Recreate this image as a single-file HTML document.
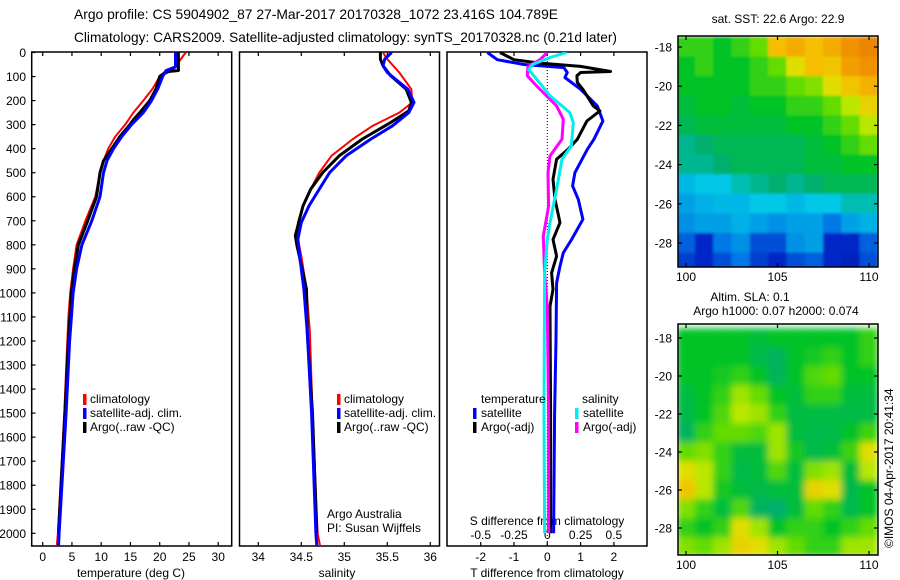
<!DOCTYPE html>
<html><head><meta charset="utf-8">
<style>
body{margin:0;background:#fff;}
svg{display:block;font-family:"Liberation Sans",Arial,sans-serif;}
text{fill:#000;}
</style></head>
<body>
<svg id="fig" width="900" height="580" viewBox="0 0 900 580" xmlns="http://www.w3.org/2000/svg">
<rect width="900" height="580" fill="#fff"/>
<text x="74" y="19" font-size="14" textLength="484" lengthAdjust="spacingAndGlyphs">Argo profile: CS 5904902_87 27-Mar-2017 20170328_1072 23.416S 104.789E</text>
<text x="74" y="42" font-size="14" textLength="543" lengthAdjust="spacingAndGlyphs">Climatology: CARS2009. Satellite-adjusted climatology: synTS_20170328.nc (0.21d later)</text>
<defs>
<clipPath id="cp1"><rect x="31.7" y="52" width="200" height="494"/></clipPath>
<clipPath id="cp2"><rect x="239.5" y="52" width="200" height="494"/></clipPath>
<clipPath id="cp3"><rect x="447" y="52" width="200" height="494"/></clipPath>
<clipPath id="cpm1"><rect x="678" y="36" width="200" height="231"/></clipPath>
<clipPath id="cpm2"><rect x="678" y="324" width="200" height="231"/></clipPath>
<filter id="blur" x="-5%" y="-5%" width="110%" height="110%"><feGaussianBlur stdDeviation="3.5"/></filter>
<filter id="blur2"><feGaussianBlur stdDeviation="1.2"/></filter>
</defs>
<g id="layer"></g>
</svg>
<script>
// ---------- data ----------
const depthTicks = [0,100,200,300,400,500,600,700,800,900,1000,1100,1200,1300,1400,1500,1600,1700,1800,1900,2000];
const tempTicks = [0,5,10,15,20,25,30];
const salTicks = [34,34.5,35,35.5,36];
const salTickLabels = ["34","34.5","35","35.5","36"];
const dTTicks = [-2,-1,0,1,2];
const dSTicks = [-0.5,-0.25,0,0.25,0.5];
const dSTickLabels = ["-0.5","-0.25","0","0.25","0.5"];

const tClimD = [0,8,75,100,150,200,250,300,350,400,450,500,600,700,800,900,1000,1100,1200,1500,2000,2055];
const tClim = [24.5,24.2,22.2,20.0,18.8,17.2,15.5,14.1,12.4,11.2,10.4,9.8,9.0,7.3,5.8,5.2,4.7,4.4,4.2,3.7,2.6,2.4];
const tSatD = [0,60,75,100,150,200,250,300,350,400,450,500,600,700,800,900,1000,1100,1200,1500,2000,2055];
const tSat = [22.7,22.7,21.1,20.5,19.7,18.6,17.2,15.2,13.5,12.1,11.0,10.4,9.8,8.4,6.7,5.8,5.2,4.9,4.6,4.0,2.8,2.7];
const tArgoD = [0,75,80,100,150,200,250,280,300,350,400,450,500,600,700,800,900,1000,1200,1500,2000];
const tArgo = [23.2,23.2,21.1,20.0,19.4,18.3,16.6,15.5,14.9,13.2,11.8,10.4,9.8,9.2,7.7,6.1,5.4,4.9,4.4,3.8,2.7];

const sClimD = [0,28,83,153,208,250,305,360,430,499,568,638,707,776,846,985,1165,1500,2000,2055];
const sClim = [35.45,35.5,35.64,35.78,35.79,35.64,35.33,35.1,34.85,34.71,34.61,34.52,34.46,34.46,34.5,34.56,34.6,34.63,34.69,34.72];
const sSatD = [0,28,55,83,153,208,250,305,360,430,499,568,638,707,776,846,985,1165,1500,2000,2050];
const sSat = [35.55,35.47,35.45,35.5,35.74,35.81,35.75,35.56,35.31,35.02,34.83,34.71,34.59,34.5,34.46,34.48,34.53,34.57,34.62,34.67,34.68];
const sArgoD = [0,28,55,97,153,208,243,291,360,430,499,568,638,707,762,804,915,985,1165,1500,2000];
const sArgo = [35.42,35.42,35.45,35.54,35.72,35.78,35.75,35.54,35.21,34.94,34.75,34.61,34.52,34.47,34.43,34.45,34.52,34.56,34.57,34.63,34.68];

const dTSatD = [0,30,50,63,83,104,153,222,285,361,403,500,555,611,694,778,833,889,958,1194,1500,2000];
const dTSat = [-1.8,-1.5,-0.7,0.5,0.6,0.53,1.0,1.5,1.67,1.4,1.2,0.83,0.76,0.93,1.07,0.73,0.48,0.38,0.28,0.26,0.22,0.19];
const dTArgoD = [0,30,44,58,79,83,97,125,153,222,243,285,361,403,444,528,611,708,778,847,917,986,1056,1500,2000];
const dTArgo = [-1.42,-1.0,-0.22,1.0,1.9,1.0,0.89,0.9,1.07,1.38,1.58,1.19,0.9,0.62,0.28,0.17,0.23,0.38,0.17,0.28,0.13,0.17,0.08,0.1,0.1];
const dSSatD = [0,21,50,71,111,180,250,292,389,444,569,708,778,917,1500,2000];
const dSSat = [0.145,0.02,-0.11,-0.14,-0.08,0.02,0.17,0.195,0.18,0.11,0.07,0.02,0,-0.02,-0.025,-0.02];
const dSArgoD = [0,30,58,97,139,222,278,361,430,500,639,764,917,1056,1500,2000];
const dSArgo = [0,-0.055,-0.145,-0.15,-0.08,0.07,0.12,0.11,0.02,0.005,0.01,-0.03,-0.02,0,0.01,0.01];

const mapLons = [100,101,102,103,104,105,106,107,108,109,110];
const mapLats = [-18,-19,-20,-21,-22,-23,-24,-25,-26,-27,-28,-29];
const lonTicks = [100,105,110];
const latTicks = [-18,-20,-22,-24,-26,-28];
const sstGrid = [
[0.55,0.55,0.5,0.55,0.6,0.75,0.78,0.75,0.78,0.82,0.84],
[0.5,0.55,0.5,0.5,0.55,0.6,0.7,0.75,0.74,0.8,0.82],
[0.5,0.5,0.5,0.5,0.55,0.55,0.6,0.62,0.7,0.74,0.77],
[0.48,0.5,0.5,0.48,0.5,0.5,0.55,0.55,0.6,0.66,0.72],
[0.45,0.48,0.48,0.48,0.48,0.48,0.5,0.5,0.55,0.6,0.66],
[0.4,0.42,0.45,0.45,0.45,0.45,0.45,0.48,0.5,0.55,0.6],
[0.4,0.4,0.42,0.45,0.45,0.45,0.45,0.48,0.48,0.5,0.5],
[0.33,0.35,0.35,0.38,0.4,0.42,0.4,0.42,0.45,0.45,0.45],
[0.3,0.32,0.33,0.33,0.35,0.35,0.33,0.35,0.35,0.38,0.38],
[0.28,0.3,0.3,0.32,0.3,0.28,0.3,0.3,0.25,0.3,0.32],
[0.22,0.15,0.25,0.28,0.2,0.2,0.28,0.3,0.15,0.15,0.22],
[0.18,0.15,0.2,0.25,0.18,0.15,0.2,0.22,0.15,0.12,0.2]];
const slaGrid = [
[0.5,0.5,0.5,0.5,0.48,0.5,0.5,0.5,0.5,0.5,0.55],
[0.5,0.5,0.5,0.5,0.46,0.44,0.5,0.52,0.55,0.5,0.55],
[0.5,0.5,0.52,0.55,0.5,0.44,0.5,0.58,0.6,0.5,0.5],
[0.47,0.5,0.55,0.64,0.6,0.5,0.48,0.55,0.55,0.48,0.47],
[0.46,0.5,0.58,0.66,0.64,0.55,0.47,0.47,0.47,0.46,0.47],
[0.44,0.55,0.6,0.6,0.58,0.64,0.48,0.46,0.46,0.5,0.56],
[0.6,0.62,0.55,0.48,0.48,0.64,0.52,0.46,0.48,0.56,0.7],
[0.7,0.66,0.55,0.46,0.48,0.58,0.48,0.62,0.64,0.48,0.66],
[0.74,0.66,0.52,0.48,0.46,0.48,0.48,0.72,0.7,0.46,0.5],
[0.62,0.55,0.48,0.58,0.44,0.42,0.48,0.6,0.55,0.46,0.5],
[0.55,0.5,0.55,0.7,0.64,0.5,0.55,0.55,0.5,0.55,0.6],
[0.62,0.6,0.64,0.72,0.7,0.64,0.6,0.55,0.55,0.64,0.64]];

// ---------- scales ----------
const yD = d => 52.5 + d*0.2404;
const xT = t => 42.7 + t*5.85;
const xS = s => 258.3 + (s-34)*86;
const xDT = v => 547.3 + v*33.3;
const xDS = v => 547.3 + v*133.2;
const mx = lon => 686 + (lon-100)*18.3;
const my1 = lat => 47 + (-18-lat)*19.6;
const my2 = lat => 338 + (-18-lat)*19;

const NS = "http://www.w3.org/2000/svg";
const root = document.getElementById('layer');
function mk(tag, attrs, parent){
  const e = document.createElementNS(NS, tag);
  for (const k in attrs) e.setAttribute(k, attrs[k]);
  (parent||root).appendChild(e);
  return e;
}
function txt(x,y,s,size,anchor,parent){
  const t = mk('text',{x:x,y:y,'font-size':size||12,'text-anchor':anchor||'start'},parent);
  t.textContent = s;
  return t;
}
function line(xs, ds, xf, color, w, clip, name){
  const pts = xs.map((v,i)=> xf(v).toFixed(1)+','+yD(ds[i]).toFixed(1)).join(' ');
  const p = mk('polyline',{points:pts,fill:'none',stroke:color,'stroke-width':w,'stroke-linejoin':'round','clip-path':'url(#'+clip+')'});
  
  
  return p;
}
function frame(x0,x1,name){
  const r = mk('rect',{x:x0,y:52,width:x1-x0,height:494,fill:'none',stroke:'#000','stroke-width':1.5});
  
  
}
function legendBar(x,y,color){ mk('rect',{x:x,y:y-9,width:3.5,height:11,fill:color}); }

// ---------- panel 1: temperature ----------
frame(31.7,231.7,'temperature-panel-frame');
depthTicks.forEach(d=>{
  mk('line',{x1:31.7,x2:35.5,y1:yD(d),y2:yD(d),stroke:'#000','stroke-width':1.2});
  const t = txt(26,yD(d)+4.5,String(d),12,'end');
  
  
});
tempTicks.forEach(v=>{
  mk('line',{x1:xT(v),x2:xT(v),y1:52,y2:56,stroke:'#000','stroke-width':1.2});
  mk('line',{x1:xT(v),x2:xT(v),y1:546,y2:542,stroke:'#000','stroke-width':1.2});
  const t = txt(xT(v),561,String(v),12,'middle');
  
  
});
const ttl1 = txt(131,577,'temperature (deg C)',12,'middle');


line(tClim,tClimD,xT,'#f00',2,'cp1','temp-climatology-line');
line(tArgo,tArgoD,xT,'#000',3,'cp1','temp-argo-line');
line(tSat,tSatD,xT,'#00f',3,'cp1','temp-satellite-line');
legendBar(83,403,'#f00'); txt(90,403,'climatology',12);
legendBar(83,417,'#00f'); txt(90,417,'satellite-adj. clim.',12);
legendBar(83,431,'#000'); txt(90,431,'Argo(..raw -QC)',12);

// ---------- panel 2: salinity ----------
frame(239.5,439.5,'salinity-panel-frame');
salTicks.forEach((v,i)=>{
  mk('line',{x1:xS(v),x2:xS(v),y1:52,y2:56,stroke:'#000','stroke-width':1.2});
  mk('line',{x1:xS(v),x2:xS(v),y1:546,y2:542,stroke:'#000','stroke-width':1.2});
  const t = txt(xS(v),561,salTickLabels[i],12,'middle');
  
  
});
const ttl2 = txt(337,577,'salinity',12,'middle');


line(sClim,sClimD,xS,'#f00',2,'cp2','sal-climatology-line');
line(sArgo,sArgoD,xS,'#000',3,'cp2','sal-argo-line');
line(sSat,sSatD,xS,'#00f',3,'cp2','sal-satellite-line');
legendBar(337,403,'#f00'); txt(344,403,'climatology',12);
legendBar(337,417,'#00f'); txt(344,417,'satellite-adj. clim.',12);
legendBar(337,431,'#000'); txt(344,431,'Argo(..raw -QC)',12);
txt(327,518,'Argo Australia',12);
txt(327,532,'PI: Susan Wijffels',12);

// ---------- panel 3: differences ----------
frame(447,647,'difference-panel-frame');
mk('line',{x1:xDT(0),x2:xDT(0),y1:52,y2:546,stroke:'#000','stroke-width':1,'stroke-dasharray':'1,2'});
dTTicks.forEach(v=>{
  mk('line',{x1:xDT(v),x2:xDT(v),y1:52,y2:56,stroke:'#000','stroke-width':1.2});
  mk('line',{x1:xDT(v),x2:xDT(v),y1:546,y2:542,stroke:'#000','stroke-width':1.2});
  const t = txt(xDT(v),561,String(v),12,'middle');
  
  
});
dSTicks.forEach((v,i)=>{
  const t = txt(xDS(v),539,dSTickLabels[i],12,'middle');
  
  
});
const ttl3 = txt(547,577,'T difference from climatology',12,'middle');


const ttl4 = txt(547,525,'S difference from climatology',12,'middle');


line(dTSat,dTSatD,xDT,'#00f',3,'cp3','tdiff-satellite-line');
line(dTArgo,dTArgoD,xDT,'#000',3,'cp3','tdiff-argo-line');
line(dSArgo,dSArgoD,xDS,'#f0f',3,'cp3','sdiff-argo-line');
line(dSSat,dSSatD,xDS,'#0ee',3,'cp3','sdiff-satellite-line');
txt(481,403,'temperature',12);
legendBar(473,417,'#00f'); txt(481,417,'satellite',12);
legendBar(473,431,'#000'); txt(481,431,'Argo(-adj)',12);
txt(582,403,'salinity',12);
legendBar(575,417,'#0ee'); txt(583,417,'satellite',12);
legendBar(575,431,'#f0f'); txt(583,431,'Argo(-adj)',12);

// ---------- maps ----------
const cstops = [[0,[0,0,140]],[0.15,[0,40,200]],[0.25,[0,120,230]],[0.35,[0,200,230]],[0.42,[0,175,110]],[0.5,[0,195,40]],[0.6,[100,220,0]],[0.68,[215,235,0]],[0.75,[245,190,0]],[0.82,[240,145,0]],[0.9,[220,100,0]],[1,[180,40,0]]];
function cmap(v){
  for (let i=1;i<cstops.length;i++){
    if (v<=cstops[i][0]){
      const a=cstops[i-1], b=cstops[i], f=(v-a[0])/(b[0]-a[0]);
      const c=a[1].map((x,k)=>Math.round(x+(b[1][k]-x)*f));
      return 'rgb('+c.join(',')+')';
    }
  }
  return 'rgb(180,40,0)';
}
function drawMap(grid, myf, clip, y0, name, smooth){
  const g = mk('g',{'clip-path':'url(#'+clip+')'});
  
  
  const inner = mk('g',{filter: smooth?'url(#blur)':'url(#blur2)'}, g);
  grid.forEach((row,j)=>{
    row.forEach((v,i)=>{
      const x0 = mx(mapLons[i]-0.5), x1 = mx(mapLons[i]+0.5);
      const ya = myf(mapLats[j]+0.5), yb = myf(mapLats[j]-0.5);
      const r = mk('rect',{x:x0-0.3,y:ya-0.3,width:x1-x0+0.6,height:yb-ya+0.6,fill:cmap(v)},inner);
      
      
    });
  });
  mk('rect',{x:678,y:y0,width:200,height:231,fill:'none',stroke:'#000','stroke-width':1.5});
  latTicks.forEach(l=>{
    mk('line',{x1:678,x2:682,y1:myf(l),y2:myf(l),stroke:'#000','stroke-width':1.2});
    mk('line',{x1:878,x2:874,y1:myf(l),y2:myf(l),stroke:'#000','stroke-width':1.2});
    const t = txt(672,myf(l)+4.5,String(l),12,'end');
    
    
  });
  lonTicks.forEach(l=>{
    mk('line',{x1:mx(l),x2:mx(l),y1:y0,y2:y0+4,stroke:'#000','stroke-width':1.2});
    mk('line',{x1:mx(l),x2:mx(l),y1:y0+231,y2:y0+227,stroke:'#000','stroke-width':1.2});
    const t = txt(mx(l),y0+245,String(l),12,'middle');
    
    
  });
}
drawMap(sstGrid, my1, 'cpm1', 36, 'sst-map', false);
drawMap(slaGrid, my2, 'cpm2', 324, 'sla-map', true);
const mt1 = txt(778,23,'sat. SST: 22.6 Argo: 22.9',12,'middle');


txt(750,301,'Altim. SLA: 0.1',12,'middle');
txt(776,315,'Argo h1000: 0.07 h2000: 0.074',12,'middle');
const cr = txt(0,0,'©IMOS 04-Apr-2017 20:41:34',12,'start');
cr.setAttribute('transform','translate(893,548) rotate(-90)');


</script>
</body></html>
